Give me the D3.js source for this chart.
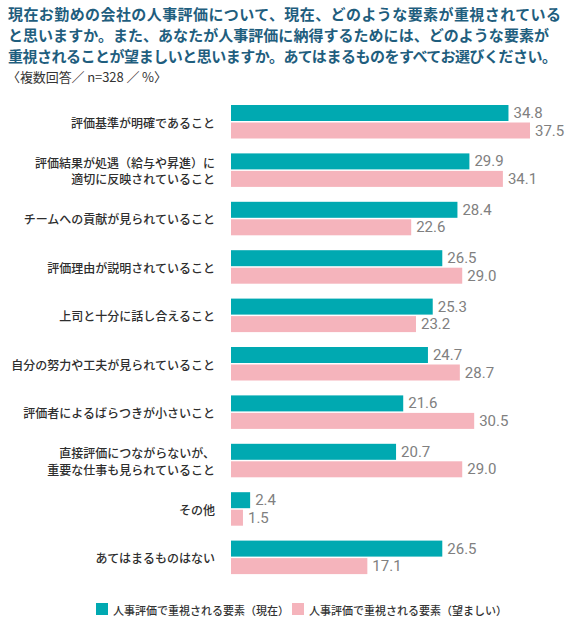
<!DOCTYPE html>
<html><head><meta charset="utf-8">
<script src="https://cdn.jsdelivr.net/npm/d3@7"></script>
<style>
html,body{margin:0;padding:0;background:#fff;}
svg{display:block;}
</style></head>
<body>
<script>
const titleLines = [
  "現在お勤めの会社の人事評価について、現在、どのような要素が重視されている",
  "と思いますか。また、あなたが人事評価に納得するためには、どのような要素が",
  "重視されることが望ましいと思いますか。あてはまるものをすべてお選びください。"
];
const subtitle = "〈複数回答／ n=328 ／ %〉";
const categories = [
  ["評価基準が明確であること"],
  ["評価結果が処遇（給与や昇進）に","適切に反映されていること"],
  ["チームへの貢献が見られていること"],
  ["評価理由が説明されていること"],
  ["上司と十分に話し合えること"],
  ["自分の努力や工夫が見られていること"],
  ["評価者によるばらつきが小さいこと"],
  ["直接評価につながらないが、","重要な仕事も見られていること"],
  ["その他"],
  ["あてはまるものはない"]
];
const seriesNames = ["人事評価で重視される要素（現在）","人事評価で重視される要素（望ましい）"];
const current = [34.8, 29.9, 28.4, 26.5, 25.3, 24.7, 21.6, 20.7, 2.4, 26.5];
const desired = [37.5, 34.1, 22.6, 29.0, 23.2, 28.7, 30.5, 29.0, 1.5, 17.1];
const colors = ["#00a9b1", "#f5b4bc"];

const W = 570, H = 628;
const svg = d3.select("body").append("svg").attr("width", W).attr("height", H);
const jp = "'Noto Sans CJK JP','Noto Sans',sans-serif";

// Title
const titleWidths = [553, 541, 549];
svg.selectAll("text.title").data(titleLines).enter().append("text")
  .attr("class","title")
  .attr("x", 8).attr("y", (d,i) => 20 + i*21)
  .attr("textLength", (d,i) => titleWidths[i]).attr("lengthAdjust","spacing")
  .style("font-family", jp).style("font-size","15px").style("font-weight","700")
  .style("fill","#1f5e7e").text(d => d);
svg.append("text").attr("x", 7).attr("y", 82)
  .attr("textLength", 160).attr("lengthAdjust","spacing")
  .style("font-family", jp).style("font-size","13px").style("fill","#333")
  .text(subtitle);

// Scales
const idx = d3.range(categories.length);
const x = d3.scaleLinear().domain([0, 37.5]).range([231, 530]);
const y = d3.scaleBand().domain(idx).range([105, 105 + 48.4*categories.length]).padding(0);
const barH = 16, off = 17.5;

const g = svg.append("g");
const series = [current, desired];
series.forEach((vals, s) => {
  g.selectAll("rect.s"+s).data(idx).enter().append("rect")
    .attr("x", x(0)).attr("y", i => y(i) + s*off)
    .attr("width", i => x(vals[i]) - x(0)).attr("height", barH)
    .attr("fill", colors[s]);
  g.selectAll("text.v"+s).data(idx).enter().append("text")
    .attr("x", i => x(vals[i]) + 5).attr("y", i => y(i) + s*off + barH/2)
    .attr("dominant-baseline","central")
    .style("font-family","Roboto,'Liberation Sans',sans-serif").style("font-size","15px")
    .style("fill","#808080").text(i => vals[i].toFixed(1));
});

// Category labels
idx.forEach(i => {
  const lines = categories[i];
  const cy = y(i) + 17;
  lines.forEach((t, k) => {
    svg.append("text").attr("x", 215)
      .attr("y", cy + (k - (lines.length-1)/2) * 16.5)
      .attr("text-anchor","end").attr("dominant-baseline","central")
      .style("font-family", jp).style("font-size","12px").style("font-weight","500")
      .style("fill","#2e2e2e").text(t);
  });
});

// Legend
const legX = [96, 292];
seriesNames.forEach((n, s) => {
  svg.append("rect").attr("x", legX[s]).attr("y", 603).attr("width", 12).attr("height", 12).attr("fill", colors[s]);
  svg.append("text").attr("x", legX[s] + 17).attr("y", 609.5).attr("dominant-baseline","central")
    .style("font-family", jp).style("font-size","11px").style("font-weight","500")
    .style("fill","#333").text(n);
});
</script>
</body></html>
